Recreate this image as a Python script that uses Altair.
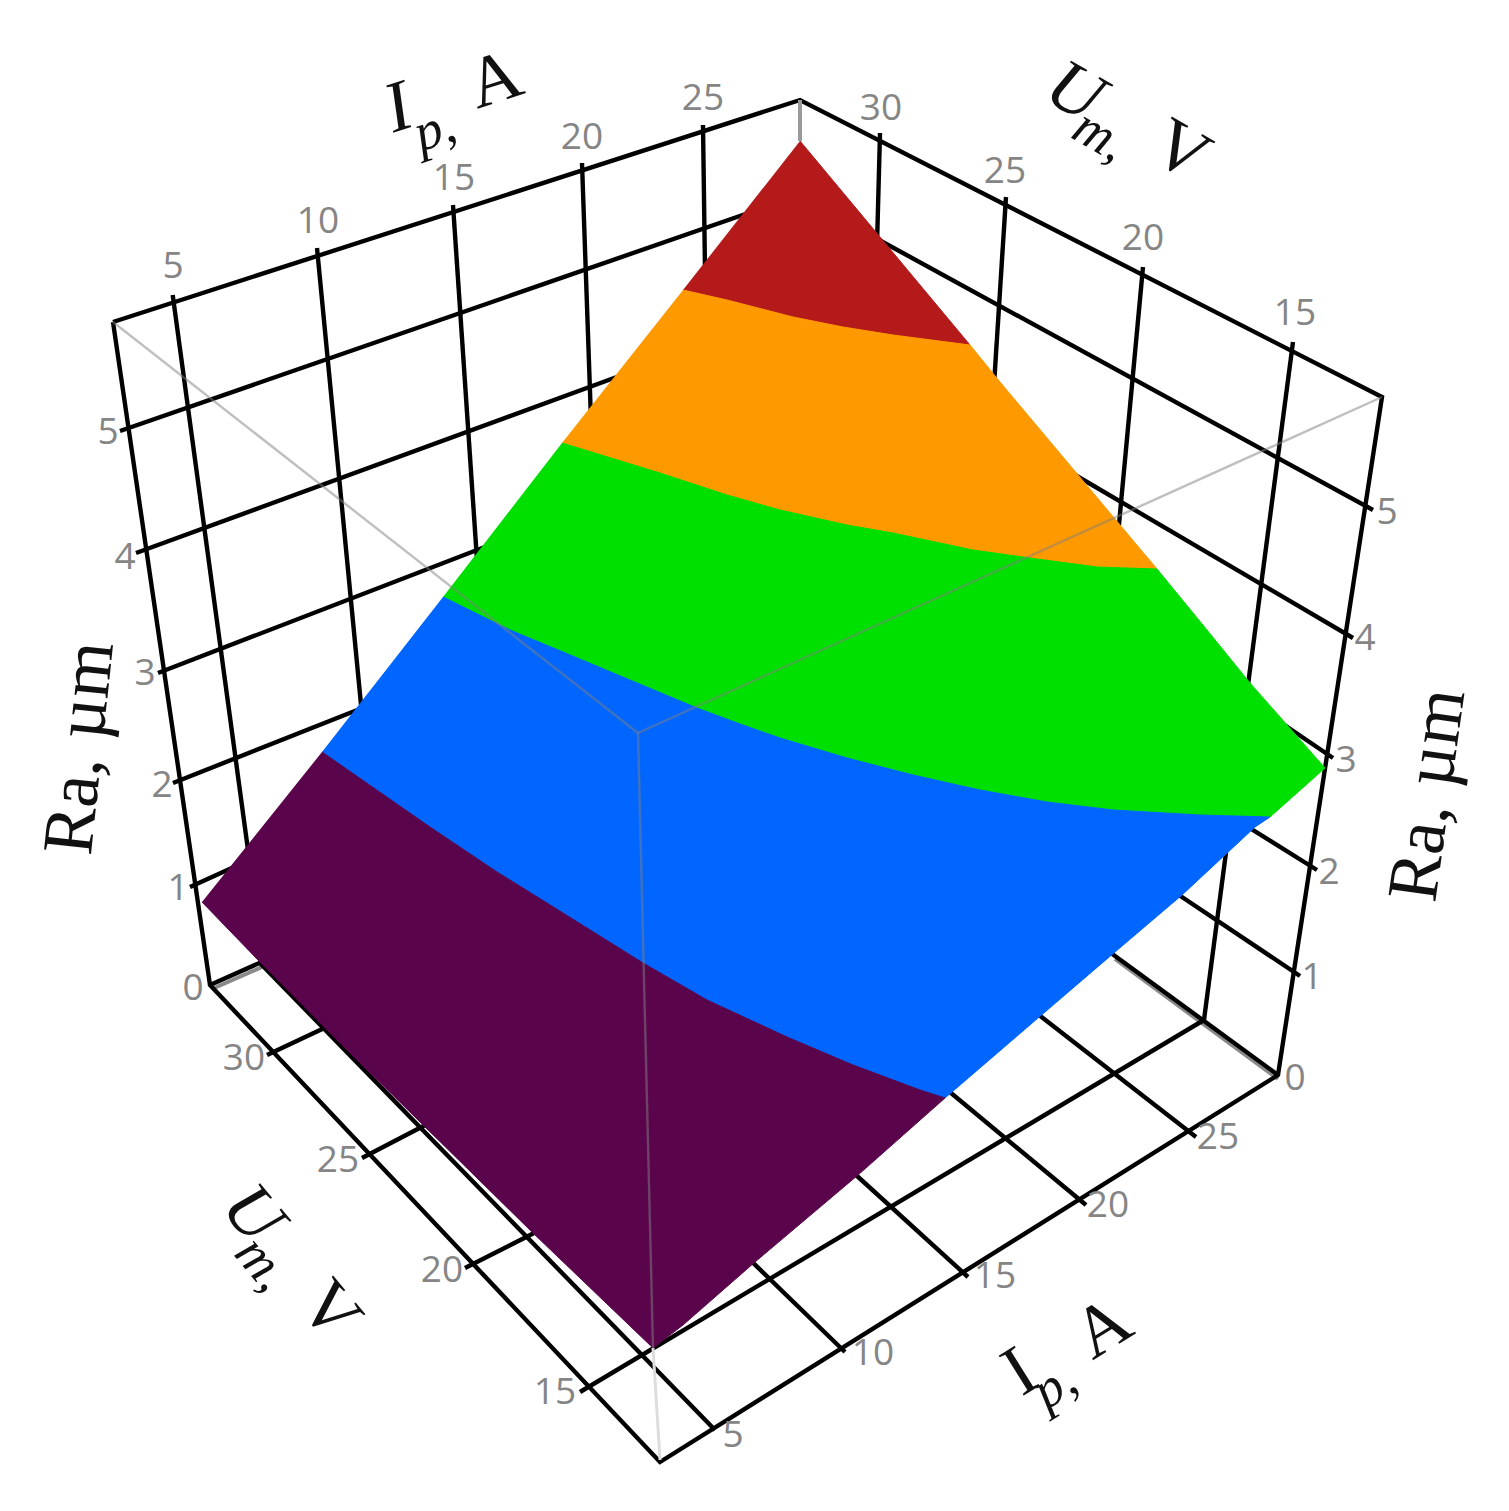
import altair as alt
import pandas as pd

# picture-plane coordinates of the 3D box (x, y)
WALL_IP = [
    [(172.7, 295), (248, 850)],
    [(317, 248), (362, 715)],
    [(453, 205), (477, 560)],
    [(582, 163), (591, 420)],
    [(703, 125), (705, 270)],
]
WALL_UM = [
    [(880, 133), (877, 245)],
    [(1006, 197), (994, 385)],
    [(1143, 267), (1118, 535)],
    [(1293, 342), (1204, 1020)],
]
WALL_RA_LEFT = [
    [(120, 431), (760, 209)],
    [(136, 553), (625, 374)],
    [(158, 673), (490, 545)],
    [(173, 783), (370, 705)],
    [(190, 887), (245, 862)],
    [(210, 985), (275, 956)],
]
WALL_RA_RIGHT = [
    [(1373, 510), (870, 235)],
    [(1353, 638), (1070, 472)],
    [(1333, 758), (1280, 722)],
    [(1317, 870), (1240, 822)],
    [(1300, 976), (1170, 889)],
    [(1278, 1075), (1100, 945)],
]
BOX_EDGES = [
    [(113, 322), (800, 100), (1382, 397), (1278, 1075), (660, 1462), (210, 985), (113, 322)],
]
FLOOR_IP = [
    [(715, 1430), (260, 963)],
    [(845, 1352), (745, 1255)],
    [(968, 1277), (845, 1165)],
    [(1086, 1205), (945, 1088)],
    [(1196, 1137), (1030, 1008)],
]
FLOOR_UM = [
    [(580, 1392), (1204, 1020)],
    [(465, 1268), (540, 1230)],
    [(362, 1158), (435, 1120)],
    [(267, 1055), (335, 1023)],
]
SHADOW = [
    [(1278, 1079), (1115, 959)],
    [(212, 989), (262, 967)],
]
GRAY_EDGES = [
    [(113, 322), (638, 733)],
    [(1382, 397), (638, 733)],
    [(638, 733), (653, 1348)],
]
GRAY_FOOT = [[(653, 1348), (660, 1460)]]
GRAY_TOP = [[(800, 100), (800, 141)]]

# surface: outline pieces and colour-band boundaries
TOP = [(800, 141)]
LEFT_CORNER = [(202, 902), (258, 960), (360, 1063), (533, 1233), (653, 1348)]
RIGHT_A = [(970, 345)]
RIGHT_B = [(1000, 382), (1157, 569)]
RIGHT_C = [(1207, 630), (1250, 683), (1325, 768), (1270, 817)]
BOTTOM_A = [(1255, 827), (1182, 895), (1115, 952), (1038, 1018), (945, 1098)]
BOTTOM_B = [(858, 1175), (755, 1262), (683, 1325), (653, 1348)]
RED_ORANGE = [(683, 290), (727, 300), (793, 317), (843, 327), (893, 335), (970, 345)]
ORANGE_GREEN = [(562, 443), (660, 473), (727, 495), (780, 510), (847, 525), (893, 533),
                (973, 550), (1030, 558), (1097, 567), (1157, 569)]
GREEN_BLUE = [(443, 597), (510, 630), (563, 652), (630, 680), (697, 708), (740, 724), (780, 738),
              (847, 758), (913, 775), (980, 790), (1047, 802), (1113, 810), (1200, 815), (1270, 817)]
BLUE_PURPLE = [(322, 752), (430, 827), (497, 872), (563, 913), (643, 963), (707, 1000),
               (787, 1037), (853, 1065), (920, 1090), (945, 1098)]

RED = "#B51A1A"
ORANGE = "#FF9900"
GREEN = "#00E000"
BLUE = "#0066FF"
PURPLE = "#5A044C"

BANDS = [
    (RED, TOP + RIGHT_A + RED_ORANGE[::-1][1:]),
    (ORANGE, RED_ORANGE + RIGHT_B + ORANGE_GREEN[::-1][1:]),
    (GREEN, ORANGE_GREEN + RIGHT_C + GREEN_BLUE[::-1][1:]),
    (BLUE, GREEN_BLUE + BOTTOM_A + BLUE_PURPLE[::-1][1:]),
    (PURPLE, BLUE_PURPLE + BOTTOM_B + LEFT_CORNER[::-1][1:]),
]

TICKS_TOP_IP = [("5", 173, 267), ("10", 318, 222), ("15", 454, 179), ("20", 582, 138), ("25", 703, 99)]
TICKS_TOP_UM = [("30", 881, 109), ("25", 1005, 172), ("20", 1143, 239), ("15", 1295, 314)]
TICKS_RA_RIGHT = [("5", 1387, 513), ("4", 1365, 639), ("3", 1346, 761), ("2", 1329, 873), ("1", 1312, 978), ("0", 1295, 1079)]
TICKS_RA_LEFT = [("5", 108, 433), ("4", 125, 558), ("3", 145, 674), ("2", 162, 786), ("1", 178, 889), ("0", 193, 989)]
TICKS_FRONT_UM = [("30", 244, 1059), ("25", 338, 1161), ("20", 442, 1271), ("15", 555, 1393)]
TICKS_FRONT_IP = [("5", 733, 1436), ("10", 873, 1354), ("15", 995, 1277), ("20", 1108, 1206), ("25", 1218, 1138)]

SERIF = "Liberation Serif"
# text, x, y, angle
TITLES_ROMAN = [
    ("Ra, µm", 80, 748, 276),
    ("Ra, µm", 1428, 795, 278),
    ("A", 495, 80, 342),
    ("I", 1020, 1372, 328),
    ("A", 1103, 1328, 328),
    ("V", 1181, 151, 30),
    ("V", 330, 1311, 50),
]
TITLES_ITALIC = [
    ("I", 398, 108, 342),
    ("U", 1075, 92, 30),
    ("U", 253, 1214, 50),
]
SUBS_ITALIC = [
    ("p,", 435, 130, 342),
    ("p,", 1055, 1386, 328),
    ("m,", 1100, 136, 30),
    ("m,", 262, 1264, 50),
]

XS = alt.Scale(domain=[8, 1501], nice=False, zero=False)
YS = alt.Scale(domain=[1503, 8], nice=False, zero=False)
X = alt.X("x:Q", scale=XS, axis=None)
Y = alt.Y("y:Q", scale=YS, axis=None)


def frame(lines):
    rows = []
    for k, line in enumerate(lines):
        for i, (x, y) in enumerate(line):
            rows.append({"id": k, "i": i, "x": x, "y": y})
    return pd.DataFrame(rows)


def strokes(lines, **style):
    return alt.Chart(frame(lines)).mark_line(**style).encode(
        x=X, y=Y, detail="id:N", order="i:Q"
    )


def polygon(colour, points):
    return alt.Chart(frame([points])).mark_line(
        fill=colour, stroke=colour, strokeWidth=1
    ).encode(x=X, y=Y, order="i:Q")


def labels(rows, **style):
    df = pd.DataFrame(rows, columns=["t", "x", "y", "a"])
    return alt.Chart(df).mark_text(align="center", baseline="middle", **style).encode(
        x=X, y=Y, text="t:N", angle=alt.Angle("a:Q", scale=None)
    )


def ticks(rows):
    return [(t, x, y, 0) for t, x, y in rows]


GRID = dict(stroke="#000000", strokeWidth=4.4)
TICK_ROWS = (ticks(TICKS_TOP_IP) + ticks(TICKS_TOP_UM) + ticks(TICKS_RA_RIGHT)
             + ticks(TICKS_RA_LEFT) + ticks(TICKS_FRONT_UM) + ticks(TICKS_FRONT_IP))

layers = [
    strokes(SHADOW, stroke="#8a8a8a", strokeWidth=4),
    strokes(WALL_IP, **GRID),
    strokes(WALL_UM, **GRID),
    strokes(WALL_RA_LEFT, **GRID),
    strokes(WALL_RA_RIGHT, **GRID),
    strokes(FLOOR_IP, **GRID),
    strokes(FLOOR_UM, **GRID),
    strokes(BOX_EDGES, **GRID),
    strokes(GRAY_TOP, stroke="#999999", strokeWidth=4),
    strokes(GRAY_FOOT, stroke="#dddddd", strokeWidth=3),
]
layers += [polygon(c, p) for c, p in BANDS]
layers += [
    strokes(GRAY_EDGES, stroke="#808080", strokeWidth=2.4, opacity=0.5),
    labels(TICK_ROWS, font="Open Sans", fontSize=37, color="#858585"),
    labels(TITLES_ROMAN, font=SERIF, fontSize=72, color="#111111"),
    labels(TITLES_ITALIC, font=SERIF, fontSize=72, fontStyle="italic", color="#111111"),
    labels(SUBS_ITALIC, font=SERIF, fontSize=54, fontStyle="italic", color="#111111"),
]

chart = alt.layer(*layers).properties(width=1493, height=1495, padding=0).configure_view(stroke=None)
chart.save("out.html", embed_options={"renderer": "svg", "actions": False})
